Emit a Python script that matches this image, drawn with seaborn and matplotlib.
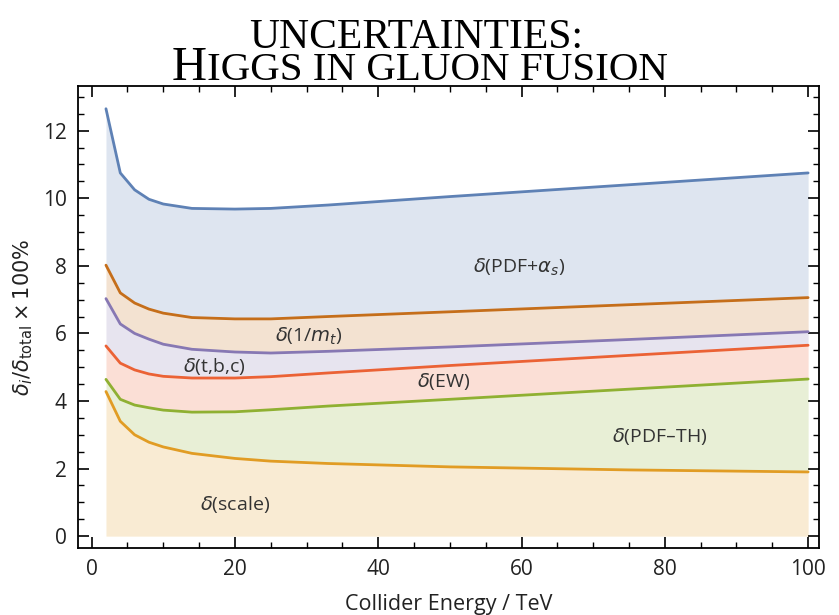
import matplotlib
matplotlib.use("Agg")
import matplotlib.pyplot as plt
import numpy as np
import pandas as pd
import seaborn as sns
from matplotlib.ticker import MultipleLocator

# Collider energy grid (TeV) and relative uncertainty contributions (cumulative, %)
energy = [2, 4, 6, 8, 10, 14, 20, 25, 33, 50, 75, 100]
pdf_alphas = [12.65, 10.75, 10.25, 9.97, 9.83, 9.70, 9.68, 9.70, 9.80, 10.05, 10.40, 10.75]
inv_mt = [8.02, 7.20, 6.90, 6.72, 6.60, 6.47, 6.43, 6.43, 6.50, 6.64, 6.85, 7.06]
tbc = [7.03, 6.28, 6.00, 5.83, 5.68, 5.53, 5.45, 5.42, 5.47, 5.60, 5.82, 6.05]
ew = [5.63, 5.12, 4.92, 4.80, 4.73, 4.68, 4.68, 4.72, 4.83, 5.05, 5.35, 5.65]
pdf_th = [4.64, 4.05, 3.88, 3.80, 3.73, 3.67, 3.68, 3.74, 3.85, 4.05, 4.35, 4.65]
scale = [4.28, 3.40, 3.00, 2.78, 2.64, 2.45, 2.30, 2.22, 2.15, 2.05, 1.96, 1.90]

series_names = ["PDF+alpha_s", "1/m_t", "t,b,c", "EW", "PDF-TH", "scale"]
series_values = [pdf_alphas, inv_mt, tbc, ew, pdf_th, scale]
line_colors = ["#5E81B5", "#C56E1A", "#8778B3", "#EB6235", "#8FB032", "#E19C24"]
band_labels = [r"$\delta$(PDF+$\alpha_s$)", r"$\delta$(1/$m_t$)", r"$\delta$(t,b,c)",
               r"$\delta$(EW)", r"$\delta$(PDF–TH)", r"$\delta$(scale)"]
label_pos = [(59.6, 7.95), (30.3, 5.92), (17.1, 5.02), (49.1, 4.58), (79.3, 2.95), (20.0, 0.95)]

sns.set_theme(style="ticks")
plt.rcParams["font.family"] = ["Open Sans", "DejaVu Sans"]
plt.rcParams["mathtext.fontset"] = "dejavusans"

fig = plt.figure(figsize=(8.39, 6.15), dpi=100)
ax = fig.add_axes([0.093, 0.109, 0.883, 0.751])

# Stacked bands: each contribution filled down to the next one, the last to zero
lowers = series_values[1:] + [[0.0] * len(energy)]
for upper, lower, col in zip(series_values, lowers, line_colors):
    ax.fill_between(energy, lower, upper, color=col, alpha=0.2, lw=0, zorder=1)

df = pd.DataFrame({
    "energy": energy * len(series_names),
    "value": [v for vals in series_values for v in vals],
    "source": [n for n in series_names for _ in energy],
})
sns.lineplot(data=df, x="energy", y="value", hue="source", hue_order=series_names,
             palette=dict(zip(series_names, line_colors)), estimator=None,
             linewidth=2.0, legend=False, ax=ax, zorder=3)

for text, (x, y) in zip(band_labels, label_pos):
    ax.text(x, y, text, ha="center", va="center", fontsize=14, color="#333333", zorder=4)

ax.set_xlim(-1.9, 101.5)
ax.set_ylim(-0.35, 13.32)
ax.xaxis.set_major_locator(MultipleLocator(20))
ax.xaxis.set_minor_locator(MultipleLocator(5))
ax.yaxis.set_major_locator(MultipleLocator(2))
ax.yaxis.set_minor_locator(MultipleLocator(0.5))
ax.tick_params(which="both", direction="in", top=True, right=True, color="black",
               labelsize=15, labelcolor="#222222")
ax.tick_params(which="major", length=8, width=1.2, pad=8)
ax.tick_params(which="minor", length=4, width=1.0)
for sp in ax.spines.values():
    sp.set_color("black")
    sp.set_linewidth(1.3)

ax.set_xlabel("Collider Energy / TeV", fontsize=15.5, color="#222222", labelpad=10)
ax.set_ylabel(r"$\delta_i/\delta_{\mathrm{total}}\times100\%$", fontsize=15,
              color="#222222", labelpad=6)

# Two-line small-caps style heading
serif = ["Liberation Serif", "DejaVu Serif"]
fig.text(416 / 839, 1 - 48 / 615, "UNCERTAINTIES:", fontsize=30, family=serif,
         ha="center", va="baseline", color="black")
renderer = fig.canvas.get_renderer()
big = fig.text(0, 1 - 80 / 615, "H", fontsize=35, family=serif, va="baseline", color="black")
small = fig.text(0, 1 - 80 / 615, "IGGS IN GLUON FUSION", fontsize=29.5, family=serif,
                 va="baseline", color="black")
w_big = big.get_window_extent(renderer).width
w_small = small.get_window_extent(renderer).width
x_start = 420 - (w_big + w_small) / 2
big.set_x(x_start / 839)
small.set_x((x_start + w_big) / 839)

fig.savefig("out.png", dpi=100)
